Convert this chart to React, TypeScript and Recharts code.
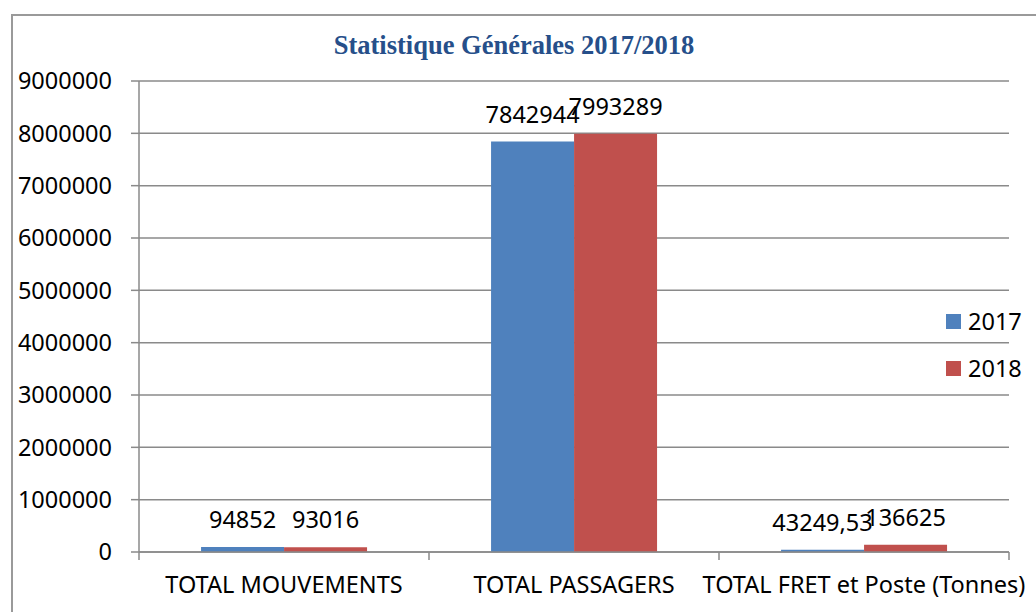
import React from "react";
import { BarChart, Bar, XAxis, YAxis, CartesianGrid, LabelList } from "recharts";

const categories = ["TOTAL MOUVEMENTS", "TOTAL PASSAGERS", "TOTAL FRET et Poste (Tonnes)"];
const values2017 = [94852, 7842944, 43249.53];
const values2018 = [93016, 7993289, 136625];
const yTicks = [0, 1000000, 2000000, 3000000, 4000000, 5000000, 6000000, 7000000, 8000000, 9000000];

const series = [
  { key: "y2017", name: "2017", color: "#4F81BD" },
  { key: "y2018", name: "2018", color: "#C0504D" },
];

const data = categories.map((c, i) => ({
  name: c,
  y2017: values2017[i],
  y2018: values2018[i],
}));

const FONT = "'Noto Sans', sans-serif";
const FS = 23.5;
const GRID = "#8a8a8a";
const LABEL_GAP = 24;

// excel writes decimals with a comma
function fmt(v: any) {
  return String(v).replace(".", ",");
}

// category label plus the little marks between categories (excel style)
function CategoryTick(props: any) {
  const { x, y, payload, index, visibleTicksCount } = props;
  const half = payload?.offset ?? 0;
  const axisY = y - LABEL_GAP;
  const isLast = index === visibleTicksCount - 1;
  return (
    <g>
      <line x1={x - half} x2={x - half} y1={axisY} y2={axisY + 8} stroke={GRID} strokeWidth={1.5} />
      {isLast && <line x1={x + half} x2={x + half} y1={axisY} y2={axisY + 8} stroke={GRID} strokeWidth={1.5} />}
      <text x={x} y={y} dy="0.71em" textAnchor="middle" fontSize={FS} fontFamily={FONT} fill="#000">
        {payload.value}
      </text>
    </g>
  );
}

export default function App() {
  return (
    <div style={{ position: "absolute", left: 0, top: 0, width: 1036, height: 612, overflow: "hidden", background: "#fff" }}>
      <div
        style={{
          position: "absolute",
          left: 11,
          top: 14,
          width: 1100,
          height: 700,
          border: "2px solid #9a9a9a",
          boxSizing: "border-box",
        }}
      />
      <div
        style={{
          position: "absolute",
          left: 0,
          top: 30,
          width: 1028,
          textAlign: "center",
          fontFamily: "'Liberation Serif', serif",
          fontWeight: "bold",
          fontSize: 26.5,
          lineHeight: "30px",
          color: "#264f8a",
        }}
      >
        Statistique Générales 2017/2018
      </div>
      <div style={{ position: "absolute", left: 0, top: 0 }}>
        <BarChart
          width={1036}
          height={612}
          data={data}
          margin={{ top: 81, right: 27, bottom: 0, left: 0 }}
          barCategoryGap="21.4%"
          barGap={0}
        >
          <CartesianGrid vertical={false} stroke={GRID} strokeWidth={1.5} />
          <XAxis
            dataKey="name"
            height={60}
            interval={0}
            tickLine={false}
            tickSize={0}
            tickMargin={LABEL_GAP}
            axisLine={{ stroke: GRID, strokeWidth: 1.5 }}
            tick={<CategoryTick />}
          />
          <YAxis
            width={139}
            domain={[0, 9000000]}
            ticks={yTicks}
            interval={0}
            tickSize={8}
            tickMargin={19}
            axisLine={{ stroke: GRID, strokeWidth: 1.5 }}
            tickLine={{ stroke: GRID, strokeWidth: 1.5 }}
            tick={{ fontSize: FS, fill: "#000", fontFamily: FONT }}
          />
          {series.map((s) => (
            <Bar key={s.key} dataKey={s.key} name={s.name} fill={s.color} isAnimationActive={false}>
              <LabelList
                dataKey={s.key}
                position="top"
                offset={19}
                formatter={fmt}
                style={{ fontSize: FS, fill: "#000", fontFamily: FONT }}
              />
            </Bar>
          ))}
        </BarChart>
      </div>
      <div style={{ position: "absolute", left: 946, top: 297.5, fontFamily: FONT, fontSize: FS, color: "#000" }}>
        {series.map((s) => (
          <div key={s.key} style={{ display: "flex", alignItems: "center", height: 47 }}>
            <span style={{ display: "inline-block", width: 15, height: 15, background: s.color, marginRight: 7 }} />
            <span>{s.name}</span>
          </div>
        ))}
      </div>
    </div>
  );
}
